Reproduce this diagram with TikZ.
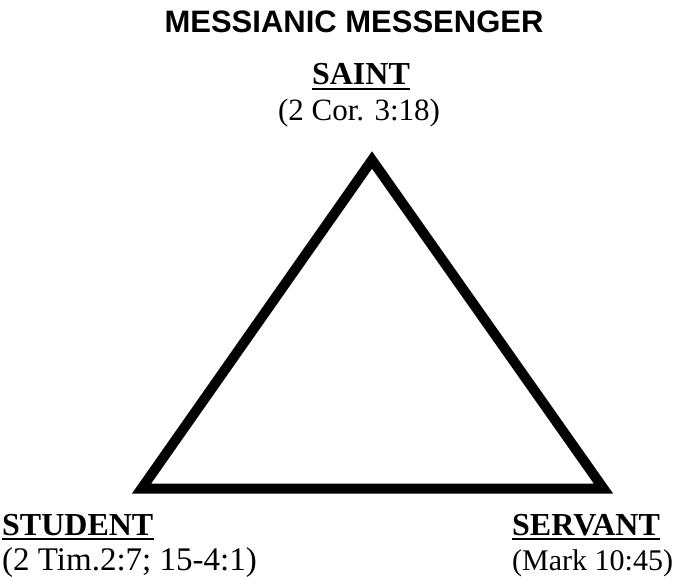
\documentclass[tikz,border=0pt]{standalone}
\usepackage{fontspec}
\setmainfont{Liberation Serif}
\newfontfamily\msSansFont{Liberation Sans}
\usepackage{tikz}
\usetikzlibrary{positioning,calc}
\definecolor{msInk}{HTML}{000000}
\tikzset{
    msTitle/.style={
        font=\msSansFont\fontsize{31}{36}\selectfont\bfseries,
        text=msInk,
        inner sep=0pt
    },
    msHead/.style={
        font=\fontsize{32}{36}\selectfont\bfseries,
        text=msInk,
        inner sep=0pt
    },
    msRef/.style={
        font=\fontsize{#1}{36}\selectfont,
        text=msInk,
        inner sep=0pt
    },
    msRef/.default=31,
    % Lines
    msEdge/.style={draw=msInk, line width=10pt, line join=miter},
    msUnder/.style={draw=msInk, line width=2.2pt}
}

\begin{document}
\begin{tikzpicture}[x=1pt, y=-1pt]
    \useasboundingbox (0, 0) rectangle (680, 577);

    % Title
    \node[msTitle, anchor=base] (title) at (354, 33) {MESSIANIC MESSENGER};

    % Triangle corners
    \coordinate (apex) at (372, 160);
    \coordinate (leftCorner) at (141.6, 488.5);
    \coordinate (rightCorner) at (603.4, 488.5);
    \draw[msEdge] (apex) -- (leftCorner) -- (rightCorner) -- cycle;

    % Corner labels
    \node[msHead, anchor=base] (saint) at (361, 85) {SAINT};
    \node[msRef, anchor=base] (saintRef) at (359, 121) {(2 Cor. 3:18)};
    \node[msHead, anchor=base west] (student) at (2, 535) {STUDENT};
    \node[msRef=33, anchor=base west] (studentRef) at (2, 570) {(2 Tim.2:7; 15-4:1)};
    \node[msHead, anchor=base west] (servant) at (512, 535) {SERVANT};
    \node[msRef=30, anchor=base west] (servantRef) at (512, 570) {(Mark 10:45)};

    % Underlines
    \draw[msUnder] ([yshift=-4pt]saint.base west) -- ([yshift=-4pt]saint.base east);
    \draw[msUnder] ([yshift=-4pt]student.base west) -- ([yshift=-4pt]student.base east);
    \draw[msUnder] ([yshift=-4pt]servant.base west) -- ([yshift=-4pt]servant.base east);
\end{tikzpicture}
\end{document}
